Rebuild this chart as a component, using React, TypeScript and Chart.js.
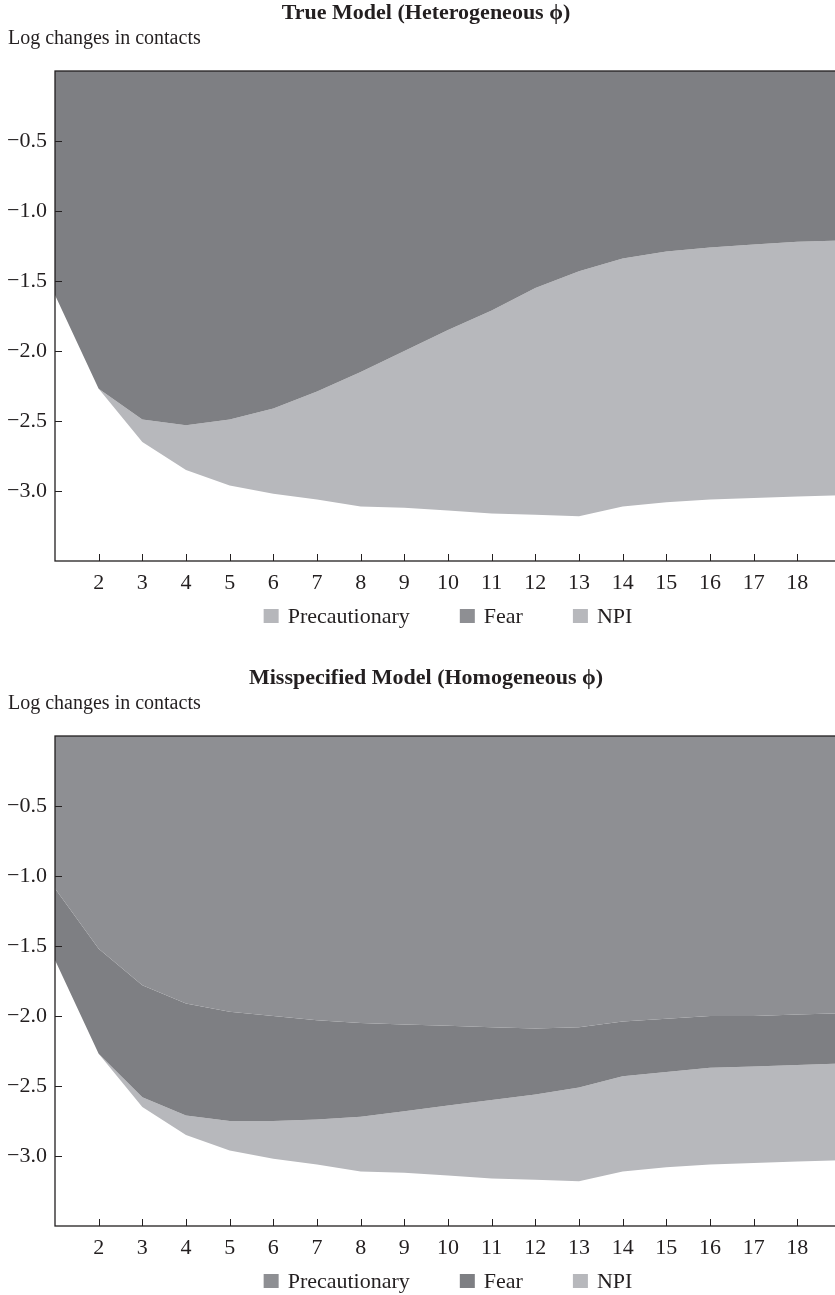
import React, { useEffect, useRef } from "react";
import { Chart, registerables } from "chart.js";

Chart.register(...registerables);

// ---------- data ----------
const weeks = [1, 2, 3, 4, 5, 6, 7, 8, 9, 10, 11, 12, 13, 14, 15, 16, 17, 18, 19];
const xTickLabels = ["2", "3", "4", "5", "6", "7", "8", "9", "10", "11", "12", "13", "14", "15", "16", "17", "18"];
const yTickValues = [-0.5, -1.0, -1.5, -2.0, -2.5, -3.0];
const seriesNames = ["Precautionary", "Fear", "NPI"];

// True model (heterogeneous phi): contributions to log changes in contacts
const truePrecautionary = [0, 0, 0, 0, 0, 0, 0, 0, 0, 0, 0, 0, 0, 0, 0, 0, 0, 0, 0];
const trueFear = [-1.60, -2.27, -2.49, -2.53, -2.49, -2.41, -2.29, -2.15, -2.00, -1.85, -1.71, -1.55, -1.43, -1.34, -1.29, -1.26, -1.24, -1.22, -1.21];
const trueNpi = [0, 0, -0.16, -0.32, -0.47, -0.61, -0.77, -0.96, -1.12, -1.29, -1.45, -1.62, -1.75, -1.77, -1.79, -1.80, -1.81, -1.82, -1.82];

// Misspecified model (homogeneous phi)
const missPrecautionary = [-1.09, -1.52, -1.78, -1.91, -1.97, -2.00, -2.03, -2.05, -2.06, -2.07, -2.08, -2.09, -2.08, -2.04, -2.02, -2.00, -2.00, -1.99, -1.98];
const missFear = [-0.51, -0.75, -0.80, -0.80, -0.78, -0.75, -0.71, -0.67, -0.62, -0.57, -0.52, -0.47, -0.43, -0.39, -0.38, -0.37, -0.36, -0.36, -0.36];
const missNpi = [0, 0, -0.07, -0.14, -0.21, -0.27, -0.32, -0.39, -0.44, -0.50, -0.56, -0.61, -0.67, -0.68, -0.68, -0.69, -0.69, -0.69, -0.69];

const trueFillColors = ["#b6b7bb", "#7e7f83", "#b7b8bc"];
const trueLegendColors = ["#b6b7bb", "#8e8f93", "#b7b8bc"];
const missFillColors = ["#8e8f93", "#7e7f83", "#b7b8bc"];
const missLegendColors = ["#8e8f93", "#7e7f83", "#b7b8bc"];

const INK = "#231f20";
const FAMILY = "'Liberation Serif', 'Times New Roman', serif";

const framePlugin = (title: string, legendColors: string[]) => ({
  id: "frame",
  afterDraw(chart: any) {
    const { ctx, chartArea } = chart;
    const { left, right, top, bottom } = chartArea;
    const xs = chart.scales.x;
    const ys = chart.scales.y;
    ctx.save();
    ctx.strokeStyle = INK;
    ctx.lineWidth = 1.3;
    ctx.strokeRect(left, top, right - left, bottom - top);
    ctx.lineWidth = 1;
    ctx.beginPath();
    xTickLabels.forEach((t) => {
      const px = Math.round(xs.getPixelForValue(Number(t))) + 0.5;
      ctx.moveTo(px, bottom);
      ctx.lineTo(px, bottom - 7);
    });
    yTickValues.forEach((v) => {
      const py = Math.round(ys.getPixelForValue(v)) + 0.5;
      ctx.moveTo(left, py);
      ctx.lineTo(left + 7, py);
    });
    ctx.stroke();

    // title
    ctx.fillStyle = INK;
    ctx.font = `bold 22px ${FAMILY}`;
    ctx.textAlign = "center";
    ctx.textBaseline = "alphabetic";
    ctx.fillText(title, 418, 19);

    // axis caption
    ctx.font = `20px ${FAMILY}`;
    ctx.textAlign = "left";
    ctx.fillText("Log changes in contacts", 0, 44);

    // legend
    ctx.font = `22px ${FAMILY}`;
    const boxW = 15, boxH = 14, gapBox = 9, gapItem = 50;
    const widths = seriesNames.map((n) => ctx.measureText(n).width);
    let total = 0;
    widths.forEach((w, i) => {
      total += boxW + gapBox + w + (i < widths.length - 1 ? gapItem : 0);
    });
    let x = (left + right) / 2 - total / 2;
    const base = bottom + 62;
    seriesNames.forEach((n, i) => {
      ctx.fillStyle = legendColors[i];
      ctx.fillRect(x, base - boxH, boxW, boxH);
      ctx.fillStyle = INK;
      ctx.fillText(n, x + boxW + gapBox, base);
      x += boxW + gapBox + widths[i] + gapItem;
    });
    ctx.restore();
  },
});

function StackedChart(props: {
  title: string;
  series: number[][];
  fills: string[];
  legendColors: string[];
  height: number;
  top: number;
}) {
  const ref = useRef<HTMLCanvasElement>(null);
  useEffect(() => {
    const canvas = ref.current!;
    const chart = new Chart(canvas, {
      type: "line",
      data: {
        datasets: props.series.map((vals, i) => ({
          label: seriesNames[i],
          data: vals.map((v, j) => ({ x: weeks[j], y: v })),
          backgroundColor: props.fills[i],
          borderColor: "rgba(0,0,0,0)",
          borderWidth: 0,
          pointRadius: 0,
          tension: 0,
          fill: i === 0 ? "origin" : "-1",
        })),
      },
      options: {
        responsive: false,
        animation: false,
        devicePixelRatio: 1,
        layout: { padding: { top: 71, right: 2, left: 0, bottom: props.height - 561 - 40 } },
        plugins: {
          legend: { display: false },
          title: { display: false },
          tooltip: { enabled: false },
        },
        font: { family: FAMILY },
        scales: {
          x: {
            type: "linear",
            min: 1,
            max: 19,
            grid: { display: false, drawTicks: false },
            border: { display: false },
            afterFit: (s: any) => {
              s.height = 40;
              s.paddingLeft = 0;
              s.paddingRight = 0;
            },
            ticks: {
              stepSize: 1,
              autoSkip: false,
              maxRotation: 0,
              padding: 9,
              color: INK,
              font: { family: FAMILY, size: 22 },
              callback: (v: any) => (xTickLabels.includes(String(v)) ? String(v) : ""),
            },
          },
          y: {
            stacked: true,
            min: -3.5,
            max: 0,
            grid: { display: false, drawTicks: false },
            border: { display: false },
            afterFit: (s: any) => {
              s.width = 47;
              s.paddingTop = 0;
              s.paddingBottom = 0;
            },
            ticks: {
              stepSize: 0.5,
              padding: 8,
              color: INK,
              font: { family: FAMILY, size: 22 },
              callback: (v: any) => {
                const r = Math.round(Number(v) * 10) / 10;
                return yTickValues.includes(r) ? "\u2212" + Math.abs(r).toFixed(1) : "";
              },
            },
          },
        },
      } as any,
      plugins: [framePlugin(props.title, props.legendColors)],
    });
    return () => chart.destroy();
  }, []);
  return (
    <canvas
      ref={ref}
      width={835}
      height={props.height}
      style={{ position: "absolute", left: 8, top: props.top, width: 835, height: props.height }}
    />
  );
}

export default function App() {
  return (
    <div
      style={{
        position: "absolute",
        left: 0,
        top: 0,
        width: 835,
        height: 1295,
        overflow: "hidden",
        background: "#ffffff",
      }}
    >
      <StackedChart
        title={"True Model (Heterogeneous \u03D5)"}
        series={[truePrecautionary, trueFear, trueNpi]}
        fills={trueFillColors}
        legendColors={trueLegendColors}
        height={665}
        top={0}
      />
      <StackedChart
        title={"Misspecified Model (Homogeneous \u03D5)"}
        series={[missPrecautionary, missFear, missNpi]}
        fills={missFillColors}
        legendColors={missLegendColors}
        height={630}
        top={665}
      />
    </div>
  );
}
